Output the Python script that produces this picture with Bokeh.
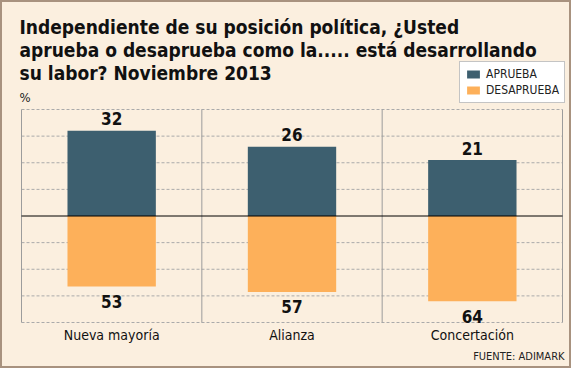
from bokeh.plotting import figure
from bokeh.models import Range1d, Label, Legend, LegendItem
from bokeh.embed import file_html
from bokeh.resources import INLINE

# ---- data ----
categories = ["Nueva mayoría", "Alianza", "Concertación"]
aprueba = [32, 26, 21]
desaprueba = [53, 57, 64]
series_names = ["APRUEBA", "DESAPRUEBA"]
grid_ticks = [-40, -30, -20, -10, 10, 20, 30, 40]
title_lines = [
    "Independiente de su posición política, ¿Usted",
    "aprueba o desaprueba como la..... está desarrollando",
    "su labor? Noviembre 2013",
]
unit_text = "%"
source_text = "FUENTE: ADIMARK"

# ---- style / layout ----
BG = "#FBEFDF"
BLUE = "#3D5F6F"
ORANGE = "#FDB05A"
FONT = "DejaVu Sans Condensed"
W, H = 571, 368
L, R, T, B = 21, 562, 109, 322          # chart area inside the canvas (px)
YMAX = 40                                # top half scale; bottom half drawn at half scale

n = len(categories)
xs = list(range(n))
neg = [-v for v in desaprueba]

per = (R - L) / n
ppu = (B - T) / (2 * YMAX)
x_range = Range1d(-0.5 - L / per, n - 0.5 + (W - R) / per)
y_range = Range1d(-YMAX - (H - B) / ppu, YMAX + T / ppu)

p = figure(width=W, height=H, x_range=x_range, y_range=y_range,
           output_backend="svg", toolbar_location=None, x_axis_location=None,
           y_axis_location=None, title=None,
           min_border=0, min_border_left=0, min_border_right=0,
           min_border_top=0, min_border_bottom=0)
p.extra_y_ranges = {"neg": Range1d(2 * y_range.start, 2 * y_range.end)}
p.background_fill_color = BG
p.border_fill_color = BG
p.outline_line_color = "#A8927F"
p.outline_line_width = 3
p.xgrid.visible = False
p.ygrid.visible = False

# grid lines
p.segment(x0=-0.5, x1=n - 0.5, y0=grid_ticks, y1=grid_ticks,
          line_color="#AAAAAA", line_dash="3 2", line_width=1)
sep = [i - 0.5 for i in range(n + 1)]
p.segment(x0=sep, x1=sep, y0=-YMAX, y1=YMAX, line_color="#9C9C9C", line_width=1)

# bars
r1 = p.vbar(x=xs, top=aprueba, bottom=0, width=0.49, fill_color=BLUE, line_color=None)
r2 = p.vbar(x=xs, top=0, bottom=neg, width=0.49, fill_color=ORANGE, line_color=None,
            y_range_name="neg")

# zero line
p.segment(x0=[-0.5], x1=[n - 0.5], y0=[0], y1=[0], line_color="black", line_width=1)

# value labels
p.text(x=xs, y=aprueba, text=[str(v) for v in aprueba], text_align="center",
       text_baseline="alphabetic", y_offset=-12, text_font_size="17px",
       text_font_style="bold", text_font={"value": FONT}, text_color="#111111")
p.text(x=xs, y=neg, text=[str(v) for v in desaprueba], text_align="center",
       text_baseline="alphabetic", y_offset=15, text_font_size="17px",
       text_font_style="bold", text_font={"value": FONT}, text_color="#111111",
       y_range_name="neg")

# category labels
p.text(x=xs, y=[-YMAX] * n, text=categories, text_align="center",
       text_baseline="alphabetic", y_offset=12, text_font_size="14px",
       text_font={"value": FONT}, text_color="#111111")

# title
for i, line in enumerate(title_lines):
    p.add_layout(Label(x=19, y=H - 26 - 23 * i, x_units="screen", y_units="screen", text=line,
                       text_font=FONT, text_font_size="19px", text_font_style="bold",
                       text_color="#111111", text_baseline="alphabetic"))
p.add_layout(Label(x=19, y=H - 97, x_units="screen", y_units="screen", text=unit_text,
                   text_font=FONT, text_font_size="13px", text_color="#222222",
                   text_baseline="alphabetic"))
p.add_layout(Label(x=564, y=H - 356, x_units="screen", y_units="screen", text=source_text,
                   text_font=FONT, text_font_size="11px", text_color="#222222",
                   text_align="right", text_baseline="alphabetic"))

legend = Legend(items=[LegendItem(label=series_names[0], renderers=[r1]),
                       LegendItem(label=series_names[1], renderers=[r2])],
                location=(459, H - 103))
legend.background_fill_color = "white"
legend.background_fill_alpha = 1
legend.border_line_color = "#8A8A8A"
legend.label_text_font = FONT
legend.label_text_font_size = "12px"
legend.label_text_color = "#222222"
legend.glyph_width = 16
legend.glyph_height = 10
legend.label_height = 12
legend.label_width = 73
legend.label_standoff = 5
legend.spacing = 2
legend.padding = 5
legend.margin = 0
p.add_layout(legend)

open("out.html", "w").write(file_html(p, INLINE))
